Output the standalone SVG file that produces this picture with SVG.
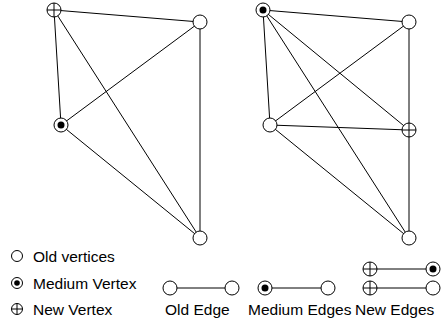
<svg xmlns="http://www.w3.org/2000/svg" width="443" height="322" viewBox="0 0 443 322">
<style>
.e{stroke:#000;stroke-width:1;fill:none}
.v{fill:#fff;stroke:#000;stroke-width:1}
.d{fill:#000}
.x{stroke:#000;stroke-width:1}
text{font-family:"Liberation Sans",Arial,sans-serif;font-size:15.5px;fill:#000}
</style>
<defs>
<g id="old"><circle class="v" r="7"/></g>
<g id="med"><circle class="v" r="7"/><circle class="d" r="3.5"/></g>
<g id="new"><circle class="v" r="7"/><line class="x" x1="-7" y1="0" x2="7" y2="0"/><line class="x" x1="0" y1="-7" x2="0" y2="7"/></g>
<g id="oldS"><circle class="v" r="5.5"/></g>
<g id="medS"><circle class="v" r="5.5"/><circle class="d" r="2.8"/></g>
<g id="newS"><circle class="v" r="5.5"/><line class="x" x1="-5.5" y1="0" x2="5.5" y2="0"/><line class="x" x1="0" y1="-5.5" x2="0" y2="5.5"/></g>
</defs>
<g id="connectors">
<line class="e" x1="54" y1="10" x2="200" y2="22"/>
<line class="e" x1="54" y1="10" x2="61" y2="125"/>
<line class="e" x1="54" y1="10" x2="200" y2="238"/>
<line class="e" x1="200" y1="22" x2="61" y2="125"/>
<line class="e" x1="200" y1="22" x2="200" y2="238"/>
<line class="e" x1="61" y1="125" x2="200" y2="238"/>
<line class="e" x1="263" y1="10" x2="409" y2="22"/>
<line class="e" x1="263" y1="10" x2="270" y2="125"/>
<line class="e" x1="263" y1="10" x2="409" y2="130"/>
<line class="e" x1="263" y1="10" x2="409" y2="238"/>
<line class="e" x1="409" y1="22" x2="270" y2="125"/>
<line class="e" x1="409" y1="22" x2="409" y2="238"/>
<line class="e" x1="270" y1="125" x2="409" y2="130"/>
<line class="e" x1="270" y1="125" x2="409" y2="238"/>
<line class="e" x1="170" y1="288" x2="232" y2="288"/>
<line class="e" x1="265" y1="288" x2="328" y2="288"/>
<line class="e" x1="370" y1="269" x2="433" y2="269"/>
<line class="e" x1="370" y1="288" x2="433" y2="288"/>
</g>
<g id="L-new"><use href="#new" x="54" y="10"/></g>
<g id="L-tr"><use href="#old" x="200" y="22"/></g>
<g id="L-med"><use href="#med" x="61" y="125"/></g>
<g id="L-bot"><use href="#old" x="200" y="238"/></g>
<g id="R-med"><use href="#med" x="263" y="10"/></g>
<g id="R-tr"><use href="#old" x="409" y="22"/></g>
<g id="R-left"><use href="#old" x="270" y="125"/></g>
<g id="R-new"><use href="#new" x="409" y="130"/></g>
<g id="R-bot"><use href="#old" x="409" y="238"/></g>
<g id="legend-old"><use href="#oldS" x="17" y="256"/><text x="33" y="261.5">Old vertices</text></g>
<g id="legend-med"><use href="#medS" x="17" y="283"/><text x="33" y="288.5">Medium Vertex</text></g>
<g id="legend-new"><use href="#newS" x="17" y="309"/><text x="33" y="314.5">New Vertex</text></g>
<g id="legend-oldedge"><use href="#old" x="170" y="288"/><use href="#old" x="232" y="288"/><text x="165" y="314.5">Old Edge</text></g>
<g id="legend-mededge"><use href="#med" x="265" y="288"/><use href="#old" x="328" y="288"/><text x="248" y="314.5">Medium Edges</text></g>
<g id="legend-newedge"><use href="#new" x="370" y="269"/><use href="#med" x="433" y="269"/><use href="#new" x="370" y="288"/><use href="#old" x="433" y="288"/><text x="355" y="314.5">New Edges</text></g>
</svg>
